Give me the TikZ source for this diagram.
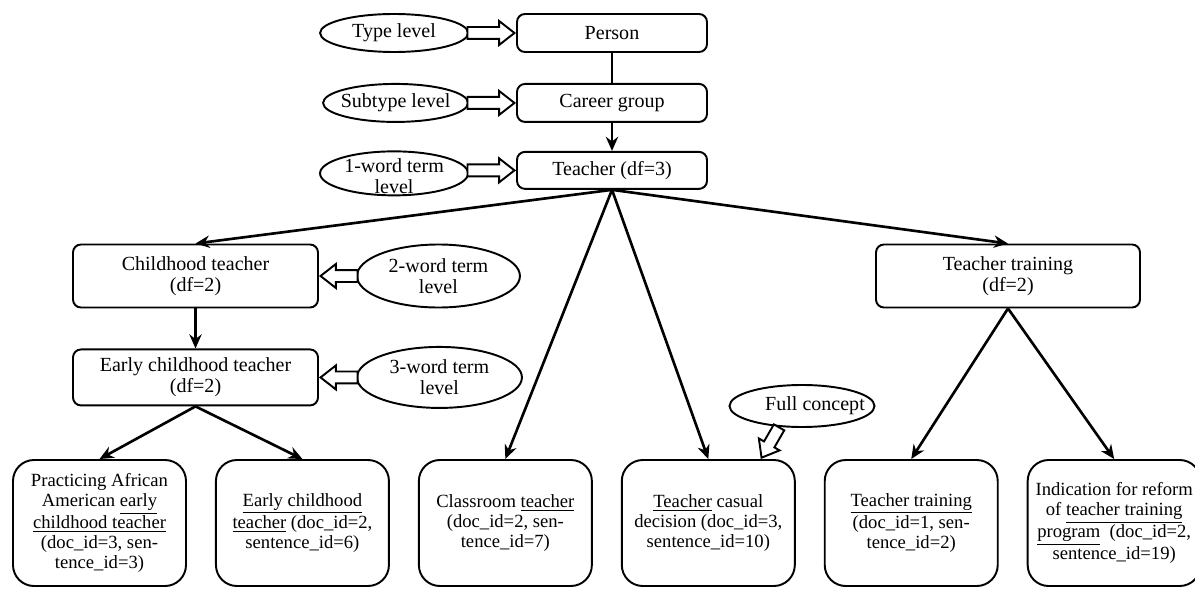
\documentclass[tikz,border=0pt]{standalone}
\usepackage{fontspec}
\setmainfont{Liberation Serif}
\usetikzlibrary{shapes,arrows.meta,positioning}

\begin{document}
\begin{tikzpicture}[
		node distance=0.6cm,
		box/.style={rectangle, draw, rounded corners=0.16cm, line width=1.1pt, align=center, font=\fontsize{11.4}{11.8}\selectfont},
		leaf/.style={rectangle, draw, rounded corners=0.42cm, line width=1.1pt, align=center, minimum width=3.46cm, minimum height=2.52cm, font=\fontsize{10.6}{11.4}\selectfont},
		level/.style={ellipse, draw, line width=1.1pt, inner sep=0pt},
		lvtext/.style={align=center, font=\fontsize{11.4}{11.8}\selectfont},
		hollow/.style={single arrow, draw, fill=white, line width=1.1pt, inner sep=0.1cm, single arrow head extend=0.12cm, single arrow tip angle=76},
		arrow/.style={-{Stealth[length=8pt,width=7pt]}, line width=1.5pt}
		]
		\useasboundingbox (0,0) rectangle (23.9,-11.78);
		
		% Type hierarchy
		\node[box, minimum width=3.8cm, minimum height=0.76cm] (person) at (12.24,-0.66) {Person};
		\node[box, minimum width=3.8cm, minimum height=0.76cm, below=of person] (career) {Career group};
		\node[box, minimum width=3.8cm, minimum height=0.74cm, below=0.56cm of career] (teacher) {Teacher (df=3)};
		\node[box, minimum width=4.9cm, minimum height=1.26cm] (childhood) at (3.91,-5.52) {Childhood teacher\\(df=2)};
		\node[box, minimum width=4.9cm, minimum height=1.12cm, below=0.8cm of childhood] (early) {Early childhood teacher\\(df=2)};
		\node[box, minimum width=5.28cm, minimum height=1.26cm] (ttrain) at (20.16,-5.52) {Teacher training\\(df=2)};
		
		% Level labels
		\node[level, minimum width=2.96cm, minimum height=0.76cm, left=0.94cm of person, label={[lvtext]center:Type level}] (typelv) {};
		\node[level, minimum width=2.9cm, minimum height=0.76cm, left=0.94cm of career, label={[lvtext]center:Subtype level}] (subtypelv) {};
		\node[level, minimum width=2.96cm, minimum height=0.88cm, left=0.94cm of teacher, yshift=-0.06cm, label={[lvtext, yshift=-0.06cm]center:1-word term\\level}] (onelv) {};
		\node[level, minimum width=3.26cm, minimum height=1.26cm, right=0.74cm of childhood, label={[lvtext]center:2-word term\\level}] (twolv) {};
		\node[level, minimum width=3.3cm, minimum height=1.22cm, right=0.74cm of early, label={[lvtext]center:3-word term\\level}] (threelv) {};
		
		% Sentences
		\node[leaf] (prac) at (1.99,-10.46) {Practicing African\\American \underline{early}\\\underline{childhood teacher}\\(doc\_id=3, sen-\\tence\_id=3)};
		\node[leaf, right=0.56cm of prac] (earlyteach) {\underline{Early childhood}\\\underline{teacher} (doc\_id=2,\\sentence\_id=6)};
		\node[leaf, right=0.56cm of earlyteach] (classroom) {Classroom \underline{teacher}\\(doc\_id=2, sen-\\tence\_id=7)};
		\node[leaf, right=0.56cm of classroom] (casual) {\underline{Teacher} casual\\decision (doc\_id=3,\\sentence\_id=10)};
		\node[leaf, right=0.56cm of casual] (training) {\underline{Teacher training}\\(doc\_id=1, sen-\\tence\_id=2)};
		\node[leaf, right=0.56cm of training] (reform) {Indication for reform\\of \underline{teacher training}\\\underline{program}\ \ (doc\_id=2,\\sentence\_id=19)};
		
		\node[level, minimum width=2.9cm, minimum height=0.84cm, label={[lvtext, xshift=0.26cm]center:Full concept}] (fullc) at (16.04,-8.12) {};
		
		% Hollow arrows
		\node[hollow, minimum height=0.94cm, anchor=tip] (typearr) at (person.west) {};
		\node[hollow, minimum height=0.94cm, anchor=tip] (subtypearr) at (career.west) {};
		\node[hollow, minimum height=0.94cm, anchor=tip] (onearr) at (teacher.west) {};
		\node[hollow, minimum height=0.74cm, anchor=tip, rotate=180] (twoarr) at (childhood.east) {};
		\node[hollow, minimum height=0.74cm, anchor=tip, rotate=180] (threearr) at (early.east) {};
		\node[hollow, minimum height=0.7cm, anchor=tip, rotate=240] (fullarr) at ([xshift=-0.7cm]casual.north east) {};
		
		% Arrows
		\draw[line width=1.5pt] (person) -- (career);
		\draw[arrow] (career) -- (teacher);
		\draw[arrow] (teacher.south) -- (childhood.north);
		\draw[arrow] (teacher.south) -- (classroom.north);
		\draw[arrow] (teacher.south) -- (casual.north);
		\draw[arrow] (teacher.south) -- (ttrain.north);
		\draw[arrow] (childhood) -- (early);
		\draw[arrow] (early.south) -- (prac.north);
		\draw[arrow] (early.south) -- (earlyteach.north);
		\draw[arrow] (ttrain.south) -- (training.north);
		\draw[arrow] (ttrain.south) -- (reform.north);
		
	\end{tikzpicture}
\end{document}
